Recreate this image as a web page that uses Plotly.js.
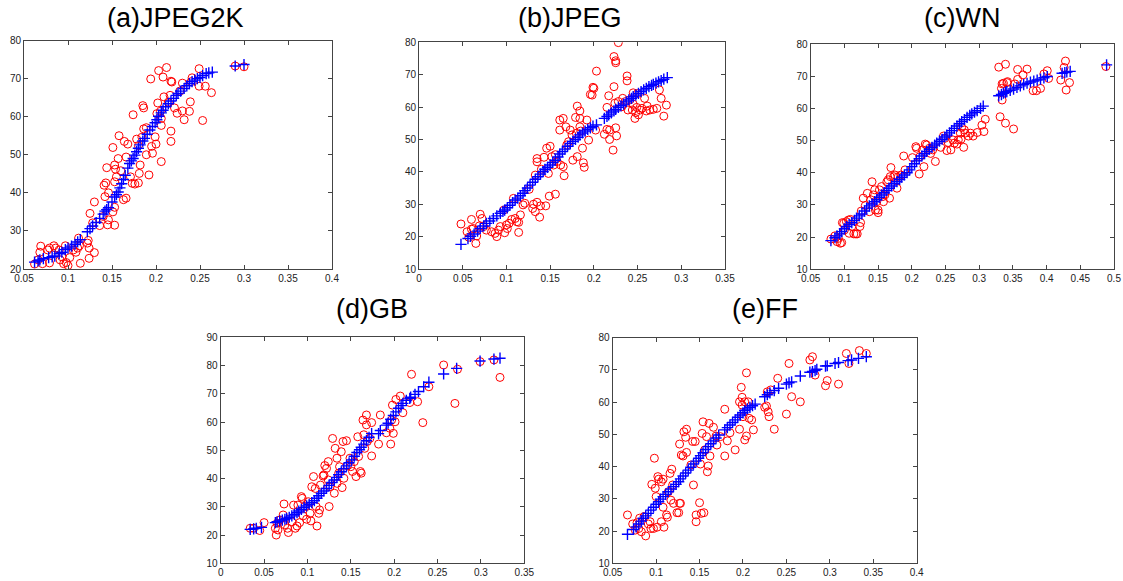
<!DOCTYPE html>
<html>
<head>
<meta charset="utf-8">
<script src="https://cdn.plot.ly/plotly-3.0.1.min.js"></script>
<style>html,body{margin:0;padding:0;background:#fff;}#chart{width:1123px;height:581px;}</style>
</head>
<body>
<div id="chart"></div>
<script>
// ---------- (a) JPEG2K ----------
const aRedX = [0.062,0.066,0.069,0.068,0.071,0.077,0.079,0.079,0.084,0.086,0.090,0.091,0.093,0.097,0.095,0.098,0.100,0.102,0.106,0.109,0.112,0.113,0.114,0.111,0.122,0.123,0.124,0.124,0.130,0.125,0.130,0.128,0.136,0.145,0.153,0.151,0.153,0.140,0.146,0.142,0.146,0.141,0.143,0.144,0.151,0.153,0.154,0.155,0.153,0.157,0.158,0.160,0.163,0.166,0.164,0.166,0.168,0.171,0.174,0.173,0.176,0.180,0.181,0.178,0.180,0.184,0.182,0.185,0.186,0.186,0.189,0.189,0.192,0.194,0.195,0.196,0.199,0.200,0.201,0.202,0.203,0.205,0.206,0.208,0.209,0.206,0.206,0.212,0.214,0.216,0.217,0.218,0.217,0.217,0.221,0.224,0.227,0.230,0.230,0.232,0.239,0.238,0.240,0.241,0.249,0.249,0.253,0.256,0.263,0.290,0.300];
const aRedY = [21.3,22.4,26.0,24.4,21.4,25.0,21.6,25.5,26.1,25.5,25.0,22.4,23.2,26.1,21.4,21.7,20.9,23.0,25.0,24.4,28.1,26.1,21.5,25.5,26.8,27.5,25.5,22.8,24.3,34.6,37.6,32.1,31.4,31.6,31.5,35.0,36.2,33.8,32.9,39.0,40.0,42.0,42.6,46.6,51.9,47.3,46.2,44.2,42.9,49.0,55.0,45.8,38.2,38.6,53.5,49.4,52.8,44.2,60.5,42.5,42.3,42.6,45.1,54.1,52.4,54.6,47.3,62.9,62.3,56.8,57.1,50.0,44.7,69.9,52.2,50.4,54.7,52.8,60.8,63.6,72.1,61.4,48.2,70.4,65.2,59.5,57.7,72.9,63.8,65.6,69.3,69.1,56.2,53.5,62.3,60.9,66.7,61.5,68.8,59.2,63.9,61.4,69.2,70.2,72.6,68.0,59.0,68.0,66.3,73.3,73.1];
const aBlueX = [0.062,0.066,0.068,0.072,0.078,0.082,0.085,0.090,0.093,0.097,0.100,0.104,0.108,0.111,0.114,0.122,0.125,0.128,0.132,0.136,0.140,0.142,0.144,0.146,0.150,0.153,0.155,0.157,0.159,0.161,0.163,0.165,0.168,0.170,0.172,0.174,0.176,0.178,0.180,0.182,0.185,0.187,0.190,0.193,0.196,0.199,0.201,0.203,0.206,0.208,0.211,0.214,0.217,0.220,0.223,0.225,0.228,0.232,0.235,0.238,0.241,0.244,0.247,0.250,0.253,0.257,0.260,0.264,0.290,0.300];
const aBlueY = [21.8,22.1,22.4,22.7,23.0,23.2,23.4,24.0,24.4,25.1,25.5,26.0,26.5,27.1,27.7,29.8,30.6,31.3,32.2,33.3,34.4,35.2,35.6,36.1,37.6,38.9,39.5,40.2,41.3,42.4,43.5,44.6,46.5,47.7,48.4,49.0,49.9,50.8,51.7,52.6,53.6,54.3,55.4,56.5,57.4,58.4,59.2,60.1,61.0,61.7,62.6,63.4,64.1,64.8,65.6,66.1,66.7,67.4,68.1,68.7,69.2,69.6,70.0,70.3,70.8,71.3,71.5,71.7,73.3,73.7];

// ---------- (b) JPEG ----------
const bRedX = [0.048,0.055,0.057,0.060,0.060,0.062,0.065,0.066,0.069,0.070,0.072,0.074,0.077,0.083,0.087,0.089,0.091,0.093,0.097,0.098,0.100,0.101,0.103,0.106,0.108,0.110,0.112,0.114,0.114,0.116,0.119,0.121,0.126,0.130,0.131,0.133,0.135,0.133,0.135,0.135,0.138,0.139,0.140,0.143,0.145,0.146,0.148,0.149,0.150,0.152,0.154,0.156,0.156,0.158,0.161,0.161,0.162,0.165,0.165,0.166,0.168,0.169,0.171,0.173,0.175,0.176,0.179,0.180,0.181,0.181,0.184,0.184,0.185,0.184,0.187,0.188,0.189,0.192,0.194,0.196,0.198,0.199,0.200,0.202,0.203,0.212,0.215,0.215,0.217,0.218,0.218,0.222,0.223,0.223,0.224,0.225,0.225,0.225,0.226,0.228,0.228,0.232,0.233,0.236,0.238,0.238,0.239,0.241,0.244,0.245,0.245,0.247,0.248,0.249,0.250,0.251,0.253,0.255,0.258,0.260,0.261,0.264,0.268,0.272,0.275,0.277,0.280,0.283];
const bRedY = [23.9,21.5,19.8,22.3,25.3,22.5,17.9,20.2,23.3,26.9,25.6,23.1,22.0,21.5,21.0,20.0,22.0,23.1,28.2,21.2,23.6,22.5,24.1,25.3,31.8,25.6,24.6,21.3,24.4,26.7,29.8,30.3,34.6,28.7,30.0,27.7,30.6,39.0,43.1,44.1,26.0,29.5,40.8,44.5,29.5,47.3,39.5,32.5,47.9,44.7,42.1,33.1,45.3,43.2,56.0,52.9,42.1,56.5,41.6,38.8,53.9,48.3,49.3,52.9,51.4,43.6,56.8,51.9,60.3,44.7,58.8,53.9,52.6,56.5,47.3,42.8,41.4,56.0,49.8,63.9,63.7,66.1,65.8,52.9,71.1,51.6,53.1,59.9,63.5,50.0,52.9,46.7,75.6,66.3,61.2,74.3,73.7,53.6,51.1,79.9,61.7,60.1,62.7,61.7,69.6,68.1,59.1,62.2,59.1,64.4,60.9,56.5,58.3,59.9,64.2,57.6,59.1,59.6,62.7,58.8,60.3,59.1,59.3,59.6,65.3,62.7,57.2,60.6];
const bBlueX = [0.048,0.056,0.059,0.063,0.067,0.070,0.074,0.077,0.081,0.085,0.089,0.093,0.096,0.098,0.101,0.104,0.107,0.110,0.113,0.116,0.119,0.121,0.124,0.127,0.130,0.133,0.136,0.139,0.142,0.144,0.147,0.150,0.153,0.156,0.159,0.161,0.164,0.167,0.170,0.173,0.176,0.179,0.182,0.184,0.187,0.190,0.193,0.196,0.199,0.203,0.212,0.215,0.217,0.220,0.223,0.225,0.228,0.231,0.234,0.237,0.240,0.243,0.245,0.248,0.251,0.254,0.257,0.260,0.263,0.266,0.268,0.271,0.274,0.277,0.280,0.284];
const bBlueY = [17.6,19.4,20.1,20.8,21.7,22.5,23.3,24.1,24.8,25.6,26.4,27.2,27.8,28.2,28.9,29.7,30.5,31.3,31.9,32.6,33.4,34.2,35.0,35.9,36.8,37.7,38.5,39.3,40.1,40.8,41.4,42.1,42.9,43.6,44.6,45.5,46.3,47.0,47.9,48.8,49.4,50.0,50.7,51.4,52.0,52.6,53.1,53.6,54.1,54.5,56.5,57.1,57.6,58.2,58.8,59.3,59.9,60.4,60.9,61.6,62.2,62.7,63.2,63.7,64.2,64.8,65.3,65.8,66.3,66.7,67.0,67.4,67.8,68.2,68.6,69.1];

// ---------- (c) WN ----------
const cRedX = [0.080,0.086,0.089,0.091,0.094,0.096,0.097,0.099,0.100,0.103,0.106,0.107,0.109,0.111,0.114,0.117,0.119,0.123,0.124,0.125,0.128,0.131,0.134,0.137,0.139,0.141,0.143,0.145,0.146,0.148,0.150,0.150,0.152,0.155,0.157,0.158,0.160,0.163,0.165,0.167,0.169,0.168,0.173,0.175,0.178,0.180,0.184,0.188,0.190,0.201,0.206,0.207,0.211,0.212,0.216,0.218,0.220,0.222,0.226,0.228,0.231,0.235,0.243,0.247,0.249,0.252,0.254,0.258,0.261,0.263,0.267,0.269,0.272,0.273,0.274,0.277,0.278,0.279,0.284,0.287,0.291,0.297,0.304,0.307,0.309,0.329,0.331,0.333,0.334,0.334,0.336,0.339,0.339,0.341,0.342,0.351,0.353,0.357,0.357,0.365,0.371,0.380,0.385,0.391,0.396,0.401,0.403,0.421,0.426,0.428,0.429,0.434,0.488];
const cRedY = [19.4,20.4,18.6,19.6,18.1,18.3,24.5,24.3,22.2,24.8,25.3,21.2,25.5,23.3,21.0,21.0,21.0,23.3,24.5,28.1,32.1,29.8,33.6,27.9,31.6,37.2,33.1,34.7,28.4,31.0,27.6,28.4,34.7,35.7,32.6,31.0,33.1,37.2,37.8,32.1,41.6,38.8,38.8,39.3,35.2,38.8,39.3,45.2,40.9,44.7,48.1,47.6,39.6,45.0,47.1,41.9,48.9,48.6,47.6,46.0,47.1,43.5,47.9,51.4,50.7,46.9,49.4,47.1,50.2,49.2,48.9,50.2,52.3,50.4,54.1,47.9,53.3,52.3,51.4,52.3,51.4,52.5,54.8,52.8,56.6,72.8,57.4,66.2,62.6,67.6,67.8,73.7,55.4,68.0,68.3,53.6,67.6,69.0,72.1,70.4,72.2,65.5,65.5,66.2,70.7,71.7,69.3,68.8,72.7,74.7,65.7,68.0,73.0];
const cBlueX = [0.080,0.086,0.089,0.093,0.096,0.100,0.103,0.107,0.111,0.115,0.118,0.122,0.126,0.130,0.133,0.137,0.141,0.145,0.148,0.152,0.155,0.159,0.163,0.166,0.170,0.174,0.178,0.182,0.185,0.189,0.193,0.197,0.200,0.204,0.207,0.211,0.215,0.219,0.222,0.226,0.230,0.234,0.237,0.241,0.245,0.249,0.252,0.256,0.259,0.263,0.267,0.271,0.274,0.278,0.282,0.286,0.289,0.293,0.297,0.302,0.306,0.329,0.333,0.336,0.339,0.341,0.346,0.351,0.356,0.361,0.366,0.371,0.376,0.381,0.386,0.391,0.396,0.401,0.423,0.427,0.430,0.435,0.489];
const cBlueY = [18.9,19.8,20.4,21.0,21.7,22.6,23.3,23.9,24.5,25.2,25.9,26.6,27.2,28.1,29.0,29.7,30.3,31.0,31.6,32.4,33.1,33.8,34.5,35.2,35.9,36.6,37.2,37.9,38.6,39.3,40.0,40.9,41.9,42.8,43.7,44.4,45.2,45.9,46.6,47.3,47.9,48.6,49.2,49.8,50.4,51.1,51.7,52.4,53.1,53.8,54.5,55.2,55.9,56.5,57.2,57.8,58.3,58.8,59.3,60.0,60.7,63.9,64.3,64.7,65.0,65.2,65.6,66.0,66.5,67.0,67.4,67.8,68.2,68.5,68.8,69.1,69.5,69.9,70.9,71.1,71.3,71.5,73.5];

// ---------- (d) GB ----------
const dRedX = [0.034,0.038,0.045,0.050,0.063,0.064,0.065,0.066,0.068,0.072,0.073,0.074,0.077,0.078,0.082,0.084,0.086,0.088,0.089,0.091,0.093,0.094,0.095,0.097,0.099,0.101,0.103,0.104,0.105,0.107,0.109,0.110,0.111,0.113,0.114,0.115,0.118,0.119,0.120,0.122,0.124,0.124,0.125,0.126,0.129,0.131,0.132,0.134,0.134,0.136,0.137,0.139,0.140,0.141,0.142,0.145,0.146,0.149,0.150,0.152,0.154,0.156,0.158,0.159,0.161,0.162,0.164,0.165,0.166,0.168,0.168,0.169,0.172,0.174,0.174,0.184,0.182,0.191,0.195,0.196,0.197,0.198,0.199,0.201,0.202,0.207,0.210,0.218,0.220,0.227,0.233,0.240,0.257,0.270,0.273,0.299,0.315,0.322];
const dRedY = [22.4,22.4,21.6,24.4,22.4,20.0,24.2,21.8,25.3,27.1,31.0,23.6,22.4,20.9,24.7,30.6,22.4,23.2,30.6,24.4,33.6,33.0,26.8,30.1,25.6,31.8,27.7,25.0,37.1,40.7,36.5,30.1,23.2,27.7,28.9,37.7,40.9,41.3,44.6,43.6,46.0,39.5,30.1,37.1,54.2,34.8,50.7,38.3,47.2,41.9,44.2,49.5,36.8,53.1,40.1,53.4,44.5,47.2,44.2,42.5,46.0,40.7,54.8,47.8,42.5,41.9,60.7,55.5,50.7,62.5,59.0,53.1,54.2,59.8,48.0,62.5,52.2,56.2,57.8,52.2,60.7,66.0,56.0,60.1,68.0,69.2,63.3,66.9,76.9,67.2,59.8,72.5,80.2,66.6,78.7,81.4,82.0,75.8];
const dBlueX = [0.034,0.038,0.041,0.047,0.063,0.065,0.068,0.071,0.074,0.076,0.079,0.082,0.085,0.088,0.090,0.093,0.096,0.099,0.102,0.105,0.108,0.111,0.113,0.116,0.119,0.122,0.125,0.128,0.131,0.134,0.136,0.139,0.142,0.145,0.148,0.151,0.154,0.157,0.160,0.162,0.165,0.168,0.171,0.174,0.182,0.184,0.191,0.193,0.196,0.199,0.202,0.205,0.208,0.210,0.214,0.218,0.219,0.224,0.228,0.234,0.240,0.257,0.272,0.299,0.315,0.322];
const dBlueY = [22.0,22.2,22.4,22.7,24.4,24.7,25.0,25.3,25.6,25.9,26.3,26.8,27.3,27.9,28.5,29.1,29.7,30.3,30.9,31.5,32.2,33.0,33.9,34.8,35.6,36.5,37.6,38.6,39.5,40.4,41.4,42.4,43.5,44.5,45.6,46.6,47.9,49.2,50.2,51.1,52.2,53.4,54.6,55.9,55.9,57.0,58.9,59.6,61.0,62.3,63.6,64.9,65.8,66.6,67.7,68.4,68.8,69.8,70.8,72.5,74.1,77.0,79.0,81.6,82.3,82.6];

// ---------- (e) FF ----------
const eRedX = [0.067,0.073,0.076,0.078,0.080,0.081,0.083,0.086,0.088,0.091,0.093,0.094,0.095,0.097,0.098,0.099,0.100,0.101,0.102,0.103,0.106,0.106,0.108,0.108,0.109,0.112,0.113,0.114,0.116,0.117,0.118,0.119,0.120,0.124,0.126,0.127,0.128,0.127,0.129,0.131,0.132,0.134,0.135,0.135,0.140,0.142,0.143,0.145,0.146,0.146,0.150,0.151,0.152,0.153,0.154,0.155,0.156,0.158,0.159,0.160,0.161,0.162,0.166,0.169,0.170,0.174,0.179,0.179,0.182,0.185,0.191,0.196,0.196,0.198,0.199,0.199,0.200,0.202,0.202,0.204,0.204,0.206,0.207,0.210,0.212,0.225,0.227,0.228,0.229,0.230,0.232,0.236,0.240,0.250,0.253,0.256,0.266,0.277,0.280,0.283,0.295,0.297,0.310,0.319,0.322,0.334,0.342];
const eRedY = [25.0,22.2,20.3,22.6,20.8,24.0,19.8,24.5,18.5,22.2,22.9,20.8,34.5,20.8,42.6,33.3,30.7,21.2,36.9,36.1,22.9,35.3,27.4,36.1,21.2,25.0,24.3,32.2,37.9,29.6,39.2,34.3,28.6,25.7,25.7,28.6,28.6,47.0,43.6,43.3,50.8,49.1,51.6,44.4,40.5,47.8,34.3,47.8,22.9,25.0,28.8,40.8,25.5,50.3,53.9,25.7,45.2,49.3,38.4,40.2,53.4,43.3,52.2,49.5,46.7,49.3,57.8,43.3,48.0,50.5,45.2,51.6,60.1,64.6,59.1,61.5,55.5,60.1,48.3,69.1,49.5,60.1,55.0,54.5,51.4,58.4,58.8,63.2,57.0,55.5,63.8,51.6,67.4,56.3,72.0,61.7,60.1,73.1,74.1,68.4,65.1,66.7,65.6,75.1,72.0,76.0,75.1];
const eBlueX = [0.067,0.074,0.077,0.080,0.083,0.085,0.088,0.091,0.094,0.097,0.100,0.103,0.105,0.108,0.111,0.114,0.117,0.120,0.123,0.126,0.128,0.131,0.134,0.137,0.140,0.143,0.146,0.149,0.151,0.154,0.157,0.160,0.163,0.166,0.169,0.172,0.179,0.182,0.185,0.188,0.191,0.194,0.197,0.200,0.202,0.205,0.208,0.211,0.214,0.225,0.228,0.231,0.236,0.241,0.250,0.253,0.256,0.266,0.277,0.280,0.283,0.285,0.295,0.297,0.306,0.310,0.321,0.325,0.333,0.342];
const eBlueY = [19.0,20.5,21.3,22.2,23.1,24.0,24.7,25.5,26.5,27.4,28.3,29.1,29.9,30.7,31.4,32.2,33.0,33.8,34.5,35.3,36.2,37.1,38.0,38.9,39.8,40.8,41.7,42.6,43.4,44.3,45.3,46.2,47.1,48.0,48.9,49.8,51.4,52.1,52.9,53.7,54.5,55.3,56.0,56.7,57.4,57.9,58.4,58.9,59.4,61.7,62.3,62.9,63.6,64.3,65.6,66.0,66.3,68.1,69.3,69.5,69.8,70.2,71.2,71.3,72.0,72.3,72.9,73.1,73.6,74.1];

const panelTitles = ['(a)JPEG2K','(b)JPEG','(c)WN','(d)GB','(e)FF'];
const xRanges = [[0.05,0.4],[0,0.35],[0.05,0.5],[0,0.35],[0.05,0.4]];
const yRanges = [[20,80],[10,80],[10,80],[10,90],[10,80]];

// ---------- layout (pixel boxes) ----------
const W = 1123, H = 581;
const boxes = [
  {l:24,  r:332,   t:40.5, b:269},
  {l:419, r:725,   t:42.3, b:269},
  {l:810.7,r:1114, t:44,   b:269.3},
  {l:220.7,r:524.3,t:337.3,b:563.3},
  {l:612.7,r:916.7,t:337.7,b:563.3}
];
const titlePos = [[175,18],[570,18],[962,18],[372,309],[765,309]];

const reds = [[aRedX,aRedY],[bRedX,bRedY],[cRedX,cRedY],[dRedX,dRedY],[eRedX,eRedY]];
const blues = [[aBlueX,aBlueY],[bBlueX,bBlueY],[cBlueX,cBlueY],[dBlueX,dBlueY],[eBlueX,eBlueY]];

const traces = [];
const layout = {
  width: W, height: H,
  margin: {l:0, r:0, t:0, b:0},
  paper_bgcolor: '#fff', plot_bgcolor: '#fff',
  showlegend: false,
  font: {family: 'Liberation Sans, Arial, sans-serif'},
  annotations: []
};

for (let i = 0; i < 5; i++) {
  const sfx = i === 0 ? '' : String(i + 1);
  traces.push({
    x: reds[i][0], y: reds[i][1], xaxis: 'x' + sfx, yaxis: 'y' + sfx,
    mode: 'markers', type: 'scatter', hoverinfo: 'skip',
    marker: {symbol: 'circle-open', size: 8, color: '#ff0000', line: {width: 1, color: '#ff0000'}}
  });
  traces.push({
    x: blues[i][0], y: blues[i][1], xaxis: 'x' + sfx, yaxis: 'y' + sfx,
    mode: 'markers', type: 'scatter', hoverinfo: 'skip',
    marker: {symbol: 'cross-thin-open', size: 8, color: '#0000ff', line: {width: 1.4, color: '#0000ff'}}
  });
  const b = boxes[i];
  const axCommon = {
    showgrid: false, zeroline: false, showline: true, linecolor: '#444', linewidth: 1,
    mirror: 'ticks', ticks: 'inside', ticklen: 4, tickcolor: '#444', tickwidth: 1,
    tickfont: {family: 'Liberation Sans, Arial, sans-serif', size: 10, color: '#222'},
    fixedrange: true
  };
  layout['xaxis' + sfx] = Object.assign({}, axCommon, {
    domain: [b.l / W, b.r / W], range: xRanges[i], dtick: 0.05, tick0: 0,
    anchor: 'y' + sfx, ticklabelstandoff: 0
  });
  layout['yaxis' + sfx] = Object.assign({}, axCommon, {
    domain: [1 - b.b / H, 1 - b.t / H], range: yRanges[i], dtick: 10, tick0: 0,
    anchor: 'x' + sfx
  });
  layout.annotations.push({
    text: panelTitles[i], xref: 'paper', yref: 'paper',
    x: titlePos[i][0] / W, y: 1 - titlePos[i][1] / H,
    xanchor: 'center', yanchor: 'middle', showarrow: false,
    font: {family: 'Liberation Sans, Arial, sans-serif', size: 27, color: '#000'}
  });
}

Plotly.newPlot('chart', traces, layout, {displayModeBar: false, staticPlot: true});
</script>
</body>
</html>
